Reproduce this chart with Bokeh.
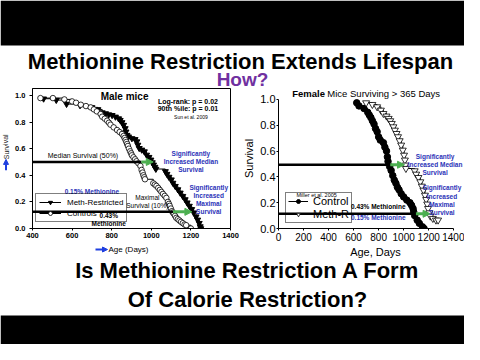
from bokeh.plotting import figure
from bokeh.models import (Range1d, Label, Arrow, NormalHead, BoxAnnotation, Legend,
                          LegendItem, FixedTicker, NumeralTickFormatter)
from bokeh.layouts import column, row
from bokeh.embed import file_html
from bokeh.resources import INLINE

# ---------------- data ----------------
# Left panel: male mice (Sun et al. 2009)
male_ctrl_days = [440, 503, 561, 600, 620, 644, 670, 694, 710, 725, 744, 752, 765, 777, 786,
                  794, 810, 827, 840, 852, 860, 865, 870, 874, 878, 882, 887, 893, 898, 902,
                  910, 918, 925, 935, 945, 951, 956, 960, 964, 968, 1010, 1018, 1026, 1035, 1043,
                  1051, 1059, 1068, 1076, 1084, 1089, 1093, 1099, 1104, 1109, 1114, 1120, 1126, 1134, 1142,
                  1150, 1159, 1168, 1176, 1200]
male_ctrl_surv = [0.98, 0.98, 0.97, 0.955, 0.945, 0.93, 0.92, 0.91, 0.895, 0.88, 0.86, 0.84, 0.825, 0.81, 0.795,
                  0.78, 0.76, 0.74, 0.725, 0.71, 0.695, 0.68, 0.665, 0.65, 0.635, 0.62, 0.60, 0.58, 0.565, 0.55,
                  0.535, 0.52, 0.505, 0.49, 0.47, 0.44, 0.42, 0.40, 0.385, 0.37, 0.34, 0.33, 0.32, 0.305, 0.29,
                  0.275, 0.26, 0.245, 0.23, 0.20, 0.185, 0.17, 0.15, 0.13, 0.12, 0.11, 0.095, 0.08, 0.07, 0.06,
                  0.05, 0.04, 0.03, 0.025, 0.0]
male_mr_days = [456, 520, 572, 640, 700, 730, 752, 769, 785, 802, 819, 835, 843, 852, 860,
                868, 872, 877, 885, 902, 918, 927, 932, 939, 952, 965, 976, 988, 998, 1005,
                1011, 1018, 1023, 1071, 1079, 1089, 1101, 1109, 1121, 1134, 1146, 1159, 1171, 1181, 1192,
                1204, 1214, 1226, 1234, 1242, 1247, 1250]
male_mr_surv = [0.975, 0.965, 0.935, 0.925, 0.91, 0.895, 0.871, 0.864, 0.856, 0.851, 0.839, 0.826, 0.814, 0.797, 0.777,
                0.752, 0.727, 0.702, 0.690, 0.677, 0.670, 0.653, 0.628, 0.603, 0.591, 0.578, 0.553, 0.536, 0.516, 0.496,
                0.479, 0.462, 0.447, 0.429, 0.409, 0.387, 0.367, 0.342, 0.318, 0.293, 0.268, 0.243, 0.218, 0.194, 0.169,
                0.144, 0.119, 0.089, 0.065, 0.040, 0.015, 0.0]

# Right panel: female mice surviving > 365 days (Miller et al. 2005)
fem_ctrl_days = [625, 643, 683, 713, 725, 738, 750, 763, 775, 788, 800, 813, 838, 850, 863,
                 870, 875, 888, 900, 913, 925, 938, 950, 963, 980, 1000, 1025, 1050, 1063, 1075,
                 1080, 1088, 1108, 1125, 1150, 1163]
fem_ctrl_surv = [0.974, 0.95, 0.93, 0.90, 0.88, 0.86, 0.835, 0.81, 0.775, 0.75, 0.71, 0.685, 0.665, 0.63, 0.60,
                 0.555, 0.52, 0.48, 0.45, 0.41, 0.375, 0.35, 0.32, 0.30, 0.27, 0.245, 0.22, 0.20, 0.18, 0.155,
                 0.13, 0.10, 0.065, 0.04, 0.013, 0.0]
fem_mr_days = [700, 750, 788, 818, 838, 863, 880, 893, 905, 918, 930, 943, 955, 968, 980,
               993, 1003, 1010, 1013, 1018, 1088, 1100, 1118, 1133, 1145, 1158, 1170, 1180, 1188, 1195,
               1205, 1213, 1233, 1258, 1275]
fem_mr_surv = [0.974, 0.961, 0.943, 0.917, 0.891, 0.871, 0.853, 0.835, 0.814, 0.788, 0.762, 0.736, 0.711, 0.680, 0.646,
               0.607, 0.568, 0.530, 0.491, 0.465, 0.447, 0.421, 0.395, 0.362, 0.328, 0.297, 0.258, 0.225, 0.189, 0.155,
               0.121, 0.096, 0.078, 0.065, 0.065]

left_x_ticks = [400, 600, 800, 1000, 1200, 1400]
right_x_ticks = [0, 200, 400, 600, 800, 1000, 1200, 1400]
y_ticks = [0.0, 0.2, 0.4, 0.6, 0.8, 1.0]

# reference lines: (survival level, control age, restricted age)
male_median = (0.5, 950, 1010)
male_maximal = (0.125, 1110, 1205)
fem_median = (0.494, 893, 1007)
fem_maximal = (0.114, 1098, 1211)

FONT = "Liberation Sans"
BLUE = "#2b33b8"
ARROW_BLUE = "#1f3fe0"
GREEN = "#4caf50"
PURPLE = "#7030a0"

W = 464


def lab(p, x, y, text, size, bold=False, color="black", align="center", angle=0.0):
    p.add_layout(Label(x=x, y=y, text=text, text_font=FONT, text_font_size=f"{size}px",
                       text_font_style="bold" if bold else "normal", text_color=color,
                       text_align=align, text_baseline="middle", angle=angle))


def hline(p, y, x0, x1, width=2.5):
    p.add_layout(Arrow(end=None, x_start=x0, y_start=y, x_end=x1, y_end=y,
                       line_color="black", line_width=width))


def garrow(p, y, x0, x1):
    p.add_layout(Arrow(end=NormalHead(size=7, fill_color=GREEN, line_color=GREEN),
                       x_start=x0, y_start=y, x_end=x1, y_end=y,
                       line_color=GREEN, line_width=3))


def barrow(p, x0, y0, x1, y1):
    p.add_layout(Arrow(end=NormalHead(size=5, fill_color=ARROW_BLUE, line_color=ARROW_BLUE),
                       x_start=x0, y_start=y0, x_end=x1, y_end=y1,
                       line_color=ARROW_BLUE, line_width=2))


def blank(width, height, xr, yr):
    f = figure(width=width, height=height, x_range=Range1d(*xr), y_range=Range1d(*yr),
               output_backend="svg", toolbar_location=None, min_border=0,
               x_axis_location=None, y_axis_location=None)
    f.grid.visible = False
    f.outline_line_color = None
    return f


def style_axes(p, xsize, ysize, bold):
    for ax, size in ((p.xaxis[0], xsize), (p.yaxis[0], ysize)):
        ax.major_label_text_font = FONT
        ax.major_label_text_font_size = f"{size}px"
        ax.major_label_text_font_style = "bold" if bold else "normal"
        ax.major_label_text_color = "black"
        ax.axis_line_color = "black"
        ax.major_tick_line_color = "black"
        ax.minor_tick_line_color = None
        ax.major_tick_in = 0
    p.grid.visible = False


# ---------------- header (page y 0..88) ----------------
hdr = blank(W, 88, (0, W), (88, 0))
hdr.add_layout(BoxAnnotation(top=0, bottom=45, fill_color="black", fill_alpha=1.0, line_color=None))
lab(hdr, 240, 60.5, "Methionine Restriction Extends Lifespan", 22, bold=True)
lab(hdr, 242, 78.5, "How?", 19, bold=True, color=PURPLE)

# ---------------- left axis title strip (page x 0..12) ----------------
strip = blank(12, 156, (0, 12), (244, 88))
barrow(strip, 5.5, 179, 5.5, 167)
lab(strip, 5.5, 153, "Survival", 7, angle=1.5708, color="#222222")

# ---------------- left panel (page x 12..240, y 88..244) ----------------
pl = figure(width=228, height=156, x_range=Range1d(400, 1400), y_range=Range1d(0, 1.052),
            output_backend="svg", toolbar_location=None,
            min_border_left=18, min_border_right=10, min_border_top=0, min_border_bottom=14)
style_axes(pl, 7.5, 7.5, True)
pl.outline_line_color = "black"
pl.outline_line_alpha = 1.0
pl.xaxis.ticker = FixedTicker(ticks=left_x_ticks)
pl.yaxis.ticker = FixedTicker(ticks=y_ticks)
pl.yaxis.formatter = NumeralTickFormatter(format="0.0")
pl.xaxis.major_tick_out = 2
pl.yaxis.major_tick_out = 3
pl.xaxis.major_label_standoff = 2
pl.yaxis.major_label_standoff = 4

mr_l = pl.step(male_mr_days, male_mr_surv, mode="after", line_color="black", line_width=1)
mr_s = pl.scatter(male_mr_days, male_mr_surv, marker="inverted_triangle", size=6,
                  fill_color="black", line_color="black")
c_l = pl.step(male_ctrl_days, male_ctrl_surv, mode="after", line_color="black", line_width=1)
c_s = pl.scatter(male_ctrl_days, male_ctrl_surv, marker="circle", size=5.5,
                 fill_color="white", line_color="black", line_width=0.8)

leg_l = Legend(items=[LegendItem(label="Meth-Restricted", renderers=[mr_l, mr_s]),
                      LegendItem(label="Controls", renderers=[c_l, c_s])],
               location=(3, 6), label_text_font=FONT, label_text_font_size="8px",
               label_text_color="black",
               glyph_width=22, glyph_height=10, label_height=10, spacing=1, padding=3,
               margin=0, label_standoff=6, border_line_color="black", border_line_width=1,
               background_fill_alpha=0.0)
pl.add_layout(leg_l)

hline(pl, male_median[0], 400, male_median[1])
garrow(pl, male_median[0], male_median[1], male_median[2])
hline(pl, male_maximal[0], 400, male_maximal[1])
garrow(pl, male_maximal[0], male_maximal[1], male_maximal[2])

lab(pl, 865, 0.993, "Male mice", 10, bold=True)
lab(pl, 1185, 0.958, "Log-rank: p = 0.02", 7, bold=True)
lab(pl, 1185, 0.901, "90th %ile: p = 0.01", 7, bold=True)
lab(pl, 1200, 0.839, "Sun et al. 2009", 5)
lab(pl, 655, 0.548, "Median Survival (50%)", 7)
lab(pl, 1200, 0.563, "Significantly", 6.5, bold=True, color=BLUE)
lab(pl, 1200, 0.501, "Increased Median", 6.5, bold=True, color=BLUE)
lab(pl, 1200, 0.444, "Survival", 6.5, bold=True, color=BLUE)
lab(pl, 1290, 0.309, "Significantly", 6.5, bold=True, color=BLUE)
lab(pl, 1290, 0.247, "Increased", 6.5, bold=True, color=BLUE)
lab(pl, 1290, 0.185, "Maximal", 6.5, bold=True, color=BLUE)
lab(pl, 1290, 0.124, "Survival", 6.5, bold=True, color=BLUE)
lab(pl, 980, 0.235, "Maximal", 6.5)
lab(pl, 980, 0.173, "Survival (10%)", 6.5)
lab(pl, 700, 0.278, "0.15% Methionine", 6.5, bold=True, color=BLUE)
lab(pl, 785, 0.099, "0.43%", 6.5, bold=True)
lab(pl, 785, 0.034, "Methionine", 6.5, bold=True)

# ---------------- right panel (page x 240..464, y 88..244) ----------------
# frame: x 274..464 (0 -> 274, 1400 -> 453), y 88..228
pr = figure(width=224, height=156, x_range=Range1d(0, 1486), y_range=Range1d(0, 1.085),
            output_backend="svg", toolbar_location=None,
            min_border_left=34, min_border_right=0, min_border_top=0, min_border_bottom=16)
style_axes(pr, 10, 11, False)
pr.outline_line_color = None
pr.xaxis.ticker = FixedTicker(ticks=right_x_ticks)
pr.yaxis.ticker = FixedTicker(ticks=y_ticks)
pr.yaxis.formatter = NumeralTickFormatter(format="0.0")
pr.yaxis.bounds = (0, 1.0)
pr.xaxis.bounds = (0, 1400)
pr.xaxis.major_tick_out = 2
pr.yaxis.major_tick_out = 2
pr.xaxis.major_label_standoff = 2
pr.yaxis.major_label_standoff = 1
pr.yaxis.axis_label = "Survival"
pr.yaxis.axis_label_text_font = FONT
pr.yaxis.axis_label_text_font_size = "11px"
pr.yaxis.axis_label_text_font_style = "normal"
pr.yaxis.axis_label_text_color = "black"
pr.yaxis.axis_label_standoff = 2

fc_l = pr.step(fem_ctrl_days, fem_ctrl_surv, mode="after", line_color="black", line_width=1)
fc_s = pr.scatter(fem_ctrl_days, fem_ctrl_surv, marker="circle", size=6.5,
                  fill_color="black", line_color="black")
fm_l = pr.step(fem_mr_days, fem_mr_surv, mode="after", line_color="black", line_width=1)
fm_s = pr.scatter(fem_mr_days, fem_mr_surv, marker="inverted_triangle", size=7,
                  fill_color="white", line_color="black", line_width=0.8)

leg_r = Legend(items=[LegendItem(label="Control", renderers=[fc_l, fc_s]),
                      LegendItem(label="Meth-R", renderers=[fm_l, fm_s])],
               location=(7, 5), label_text_font=FONT, label_text_font_size="11px",
               label_text_color="black",
               glyph_width=20, glyph_height=10, label_height=10, spacing=1, padding=2,
               margin=0, label_standoff=5, border_line_color="black", border_line_width=1,
               background_fill_alpha=0.0)
pr.add_layout(leg_r)

hline(pr, fem_median[0], 0, fem_median[1])
garrow(pr, fem_median[0], fem_median[1], fem_median[2])
hline(pr, fem_maximal[0], 0, fem_maximal[1])
garrow(pr, fem_maximal[0], fem_maximal[1], fem_maximal[2])

lab(pr, 110, 1.047, "Female", 9.5, bold=True, align="left")
lab(pr, 390, 1.047, "Mice Surviving > 365 Days", 9.5, align="left")
lab(pr, 1251, 0.558, "Significantly", 6.5, bold=True, color=BLUE)
lab(pr, 1251, 0.496, "Increased Median", 6.5, bold=True, color=BLUE)
lab(pr, 1251, 0.437, "Survival", 6.5, bold=True, color=BLUE)
lab(pr, 1306, 0.315, "Significantly", 6.5, bold=True, color=BLUE)
lab(pr, 1306, 0.251, "Increased", 6.5, bold=True, color=BLUE)
lab(pr, 1306, 0.186, "Maximal", 6.5, bold=True, color=BLUE)
lab(pr, 1306, 0.122, "Survival", 6.5, bold=True, color=BLUE)
lab(pr, 305, 0.256, "Miller et al. 2005", 5.5)
lab(pr, 579, 0.171, "0.43% Methionine", 6.5, bold=True, align="left")
lab(pr, 579, 0.083, "0.15% Methionine", 6.5, bold=True, color=BLUE, align="left")

# ---------------- footer (page y 244..344) ----------------
ftr = blank(W, 100, (0, W), (344, 244))
ftr.add_layout(BoxAnnotation(top=315, bottom=344, fill_color="black", fill_alpha=1.0, line_color=None))
barrow(ftr, 95, 249, 107, 249)
lab(ftr, 108, 249, "Age (Days)", 8, align="left")
lab(ftr, 375, 251, "Age, Days", 11)
lab(ftr, 247, 270, "Is Methionine Restriction A Form", 22, bold=True)
lab(ftr, 247, 298.5, "Of Calorie Restriction?", 22, bold=True)

layout = column(hdr, row(strip, pl, pr, spacing=0), ftr, spacing=0)
open("out.html", "w").write(file_html(layout, INLINE))
